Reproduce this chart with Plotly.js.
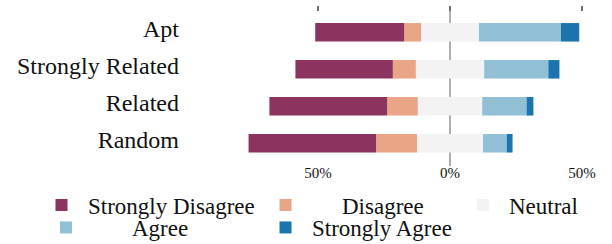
<!DOCTYPE html>
<html>
<head>
<meta charset="utf-8">
<script src="https://cdn.plot.ly/plotly-3.0.1.min.js"></script>
<style>html,body{margin:0;padding:0;background:#fff;}#chart{width:612px;height:244px;}</style>
</head>
<body>
<div id="chart"></div>
<script>
// Categories (bottom to top as drawn)
var categories = ['Random', 'Related', 'Strongly Related', 'Apt'];
// Percent of responses per category
var stronglyDisagree = [48.3, 44.6, 36.9, 33.7];
var disagree         = [15.5, 11.6, 8.7, 6.4];
var neutral          = [25.0, 24.4, 25.9, 21.9];
var agree            = [9.0, 16.8, 24.3, 31.1];
var stronglyAgree    = [2.2, 2.6, 4.2, 6.9];
// Axis ticks
var tickValues = [-50, 0, 50];
var tickLabels = ['50%', '0%', '50%'];

var colors = {
  sd: '#8c335f', d: '#e9a585', n: '#f3f3f3', a: '#91bfd5', sa: '#1b74ad'
};
var neg = function(arr, f) { return arr.map(function(v){ return -v * f; }); };
var half = function(arr) { return arr.map(function(v){ return v / 2; }); };

function bar(name, x, color, xaxis, legend, show) {
  return {
    type: 'bar', orientation: 'h', name: name, y: categories, x: x,
    xaxis: xaxis, yaxis: 'y',
    marker: {color: color}, legend: legend, showlegend: show,
    hoverinfo: 'x+y+name'
  };
}

// negative side stacks outward from 0 on x; positive side on overlaid x2
var traces = [
  bar('Neutral', neg(neutral, 0.5), colors.n, 'x', 'legend3', false),
  bar('Disagree', neg(disagree, 1), colors.d, 'x', 'legend2', true),
  bar('Strongly Disagree', neg(stronglyDisagree, 1), colors.sd, 'x', 'legend', true),
  bar('Neutral', half(neutral), colors.n, 'x2', 'legend3', true),
  bar('Agree', agree, colors.a, 'x2', 'legend4', true),
  bar('Strongly Agree', stronglyAgree, colors.sa, 'x2', 'legend5', true)
];

var legendFont = {family: 'Liberation Serif, Times New Roman, serif', size: 23, color: '#111'};
function leg(xpx, ypx, iw) {
  return {
    xref: 'container', yref: 'container', x: xpx / 612, y: 1 - ypx / 244,
    xanchor: 'left', yanchor: 'middle', orientation: 'h',
    font: legendFont, itemwidth: iw, bgcolor: 'rgba(0,0,0,0)', borderwidth: 0,
    itemclick: false, itemdoubleclick: false
  };
}

var xRange = [-98.48, 57.58];
var layout = {
  width: 612, height: 244,
  margin: {l: 190, r: 10, t: 6, b: 78},
  paper_bgcolor: '#fff', plot_bgcolor: '#fff',
  barmode: 'relative', bargap: 0.5,
  font: {family: 'Liberation Serif, Times New Roman, serif', color: '#111'},
  xaxis: {
    range: xRange, tickvals: tickValues, ticktext: tickLabels,
    showgrid: false, zeroline: true, zerolinecolor: '#b0b0b0', zerolinewidth: 2.5,
    showline: false, ticks: '', ticklabelstandoff: -4,
    tickfont: {size: 15, color: '#111'}, fixedrange: true
  },
  xaxis2: {
    overlaying: 'x', side: 'top', anchor: 'y', range: xRange,
    tickvals: tickValues, showticklabels: false, ticks: 'inside', ticklen: 5,
    tickwidth: 2, tickcolor: '#707070', showgrid: false, zeroline: false, showline: false,
    fixedrange: true
  },
  yaxis: {
    type: 'category', categoryorder: 'array', categoryarray: categories,
    range: [-0.614, 3.711], showgrid: false, zeroline: false, showline: false,
    ticks: '', ticklabelstandoff: 10, ticklabelshift: -4,
    tickfont: {size: 24, color: '#111'}, fixedrange: true
  },
  legend: leg(35, 205, 43),
  legend2: leg(229, 205, 103),
  legend3: leg(457, 205, 42),
  legend4: leg(0, 227.5, 122),
  legend5: leg(259, 227.5, 43),
  showlegend: true
};

Plotly.newPlot('chart', traces, layout, {displayModeBar: false, staticPlot: true});
</script>
</body>
</html>
